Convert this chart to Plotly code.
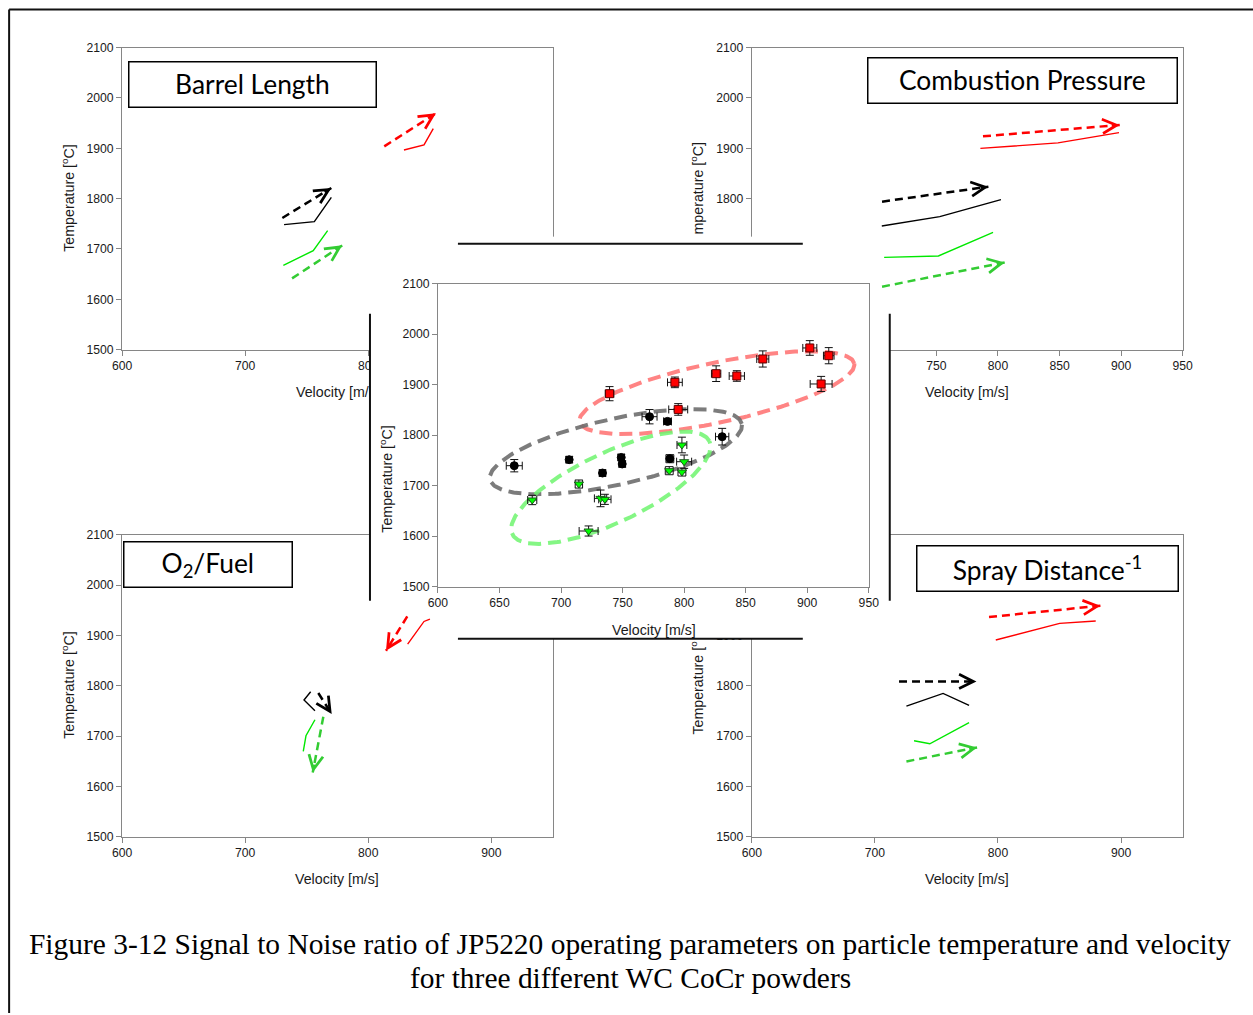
import numpy as np
import plotly.graph_objects as go

# Target picture is 1253x1015.  The capture shrinks the rendered page slightly
# (about 1.5 %) and the page body keeps an 8px margin, so page positions are
# corrected for both when mapping reference pixels to paper coordinates.
PAGE_W, PAGE_H, OFF = 1253, 1015, 8
SX, SY = 0.9845, 0.986
DX, DY = -2.0, 1.5   # residual shift of the capture
W = round(PAGE_W / SX - 2 * OFF)
H = round(PAGE_H / SY - 2 * OFF)
FS = 1 / SX  # font / size compensation

# ---------------------------------------------------------------- data
# Barrel Length panel (top left)
BAR_RED_V = [829.0, 845.3, 852.8]
BAR_RED_T = [1896.7, 1906.7, 1939.1]
BAR_RED_AV = [813.0, 855.0]
BAR_RED_AT = [1903.9, 1969.5]
BAR_BLK_V = [731.6, 756.2, 770.0]
BAR_BLK_T = [1748.3, 1754.3, 1802.6]
BAR_BLK_AV = [730.2, 770.0]
BAR_BLK_AT = [1761.6, 1821.2]
BAR_GRN_V = [731.0, 755.3, 767.0]
BAR_GRN_T = [1667.5, 1696.7, 1736.4]
BAR_GRN_AV = [738.1, 778.9]
BAR_GRN_AT = [1641.6, 1707.2]

# Combustion Pressure panel (top right)
CP_RED_V = [785.7, 848.7, 898.3]
CP_RED_T = [1899.9, 1910.7, 1931.1]
CP_RED_AV = [787.8, 898.9]
CP_RED_AT = [1923.8, 1946.4]
CP_BLK_V = [705.6, 752.7, 802.4]
CP_BLK_T = [1745.7, 1764.2, 1798.0]
CP_BLK_AV = [705.8, 792.2]
CP_BLK_AT = [1794.0, 1823.8]
CP_GRN_V = [707.5, 751.6, 796.0]
CP_GRN_T = [1683.3, 1686.1, 1733.0]
CP_GRN_AV = [705.8, 805.5]
CP_GRN_AT = [1625.1, 1673.4]

# O2/Fuel panel (bottom left)
OF_RED_V = [850.1, 845.3, 832.0]
OF_RED_T = [1932.5, 1927.7, 1882.8]
OF_RED_AV = [831.7, 814.4]
OF_RED_AT = [1937.7, 1869.5]
OF_BLK_V = [753.2, 747.8, 756.7]
OF_BLK_T = [1788.1, 1771.6, 1750.3]
OF_BLK_AV = [759.4, 770.3]
OF_BLK_AT = [1785.5, 1743.7]
OF_GRN_V = [756.7, 749.4, 747.2]
OF_GRN_T = [1732.4, 1700.6, 1669.4]
OF_GRN_AV = [763.5, 754.9]
OF_GRN_AT = [1738.4, 1627.7]

# Spray Distance^-1 panel (bottom right)
SD_RED_V = [798.2, 850.1, 879.4]
SD_RED_T = [1890.8, 1923.8, 1928.5]
SD_RED_AV = [792.7, 883.2]
SD_RED_AT = [1936.5, 1958.9]
SD_BLK_V = [725.6, 755.4, 776.5]
SD_BLK_T = [1759.6, 1784.7, 1760.8]
SD_BLK_AV = [719.6, 782.5]
SD_BLK_AT = [1808.5, 1808.5]
SD_GRN_V = [731.8, 744.6, 776.5]
SD_GRN_T = [1690.7, 1684.7, 1726.5]
SD_GRN_AV = [725.6, 783.0]
SD_GRN_AT = [1649.6, 1677.4]

# Centre panel: measured particle states with error bars
RED_V = [739.4, 792.5, 795.2, 826.0, 842.8, 863.9, 902.1, 917.5, 911.3]
RED_T = [1882.2, 1904.6, 1851.0, 1921.8, 1917.2, 1950.9, 1972.7, 1957.4, 1901.4]
RED_EV = [3.5, 6.0, 7.7, 3.8, 6.2, 4.9, 5.7, 4.3, 8.9]
RED_ET = [14.0, 10.5, 11.5, 15.5, 10.5, 16.0, 14.5, 16.0, 15.0]

BLACK_V = [662.0, 706.6, 748.9, 749.7, 733.7, 771.9, 786.5, 788.4, 830.9]
BLACK_T = [1739.6, 1751.5, 1756.0, 1743.0, 1725.1, 1836.6, 1827.3, 1753.5, 1797.0]
BLACK_EV = [6.5, 2.4, 2.5, 2.5, 2.4, 6.1, 3.2, 3.2, 5.4]
BLACK_ET = [12.2, 6.0, 6.0, 6.0, 6.0, 14.2, 6.0, 8.0, 16.5]

GREEN_V = [676.6, 714.5, 722.4, 732.1, 735.6, 787.9, 798.2, 800.0, 798.2]
GREEN_T = [1671.7, 1703.3, 1610.3, 1674.9, 1673.0, 1729.7, 1780.6, 1747.5, 1727.1]
GREEN_EV = [3.7, 3.0, 7.7, 5.0, 5.0, 3.2, 4.0, 6.1, 3.2]
GREEN_ET = [9.2, 8.0, 10.0, 16.5, 10.0, 8.0, 15.5, 13.2, 8.0]

PANEL_TITLES = ["Barrel Length", "Combustion Pressure", "O<sub>2</sub>/Fuel",
                "Spray Distance<sup>-1</sup>"]
CAPTION_LINES = ["Figure 3-12 Signal to Noise ratio of JP5220 operating parameters on "
                 "particle temperature and velocity",
                 "for three different WC CoCr powders"]

# ---------------------------------------------------------------- styling
RED, BLACK, GREEN, GREEN_D = "#ff0000", "#000000", "#00e800", "#33cc33"
AXCOL = "#868686"
SANS = "Liberation Sans, Arial, sans-serif"
TICKFONT = dict(family=SANS, size=12 * FS, color="#1a1a1a")
TITLEFONT = dict(family=SANS, size=14 * FS, color="#1a1a1a")
V_RANGE = [600, 950]
T_RANGE = [1500, 2100]


def fx(p):
    """reference pixel x -> paper fraction"""
    return ((p + DX) / SX - OFF) / W


def fy(p):
    """reference pixel y -> paper fraction"""
    return 1 - ((p + DY) / SY - OFF) / H


def axis_common(**kw):
    d = dict(showline=True, mirror=True, linecolor=AXCOL, linewidth=1,
             ticks="outside", ticklen=5, tickcolor=AXCOL, showgrid=False,
             zeroline=False, tickfont=TICKFONT, fixedrange=True)
    d.update(kw)
    return d


fig = go.Figure()
layout_axes = {}
annotations = []
shapes = []

corner_specs = [
    ("2", (122, 553, 47, 349), 100,
     [(BAR_RED_V, BAR_RED_T, BAR_RED_AV, BAR_RED_AT, RED, RED),
      (BAR_BLK_V, BAR_BLK_T, BAR_BLK_AV, BAR_BLK_AT, BLACK, BLACK),
      (BAR_GRN_V, BAR_GRN_T, BAR_GRN_AV, BAR_GRN_AT, GREEN, GREEN_D)]),
    ("3", (752, 1183, 47, 349), 50,
     [(CP_RED_V, CP_RED_T, CP_RED_AV, CP_RED_AT, RED, RED),
      (CP_BLK_V, CP_BLK_T, CP_BLK_AV, CP_BLK_AT, BLACK, BLACK),
      (CP_GRN_V, CP_GRN_T, CP_GRN_AV, CP_GRN_AT, GREEN, GREEN_D)]),
    ("4", (122, 553, 534, 836), 100,
     [(OF_RED_V, OF_RED_T, OF_RED_AV, OF_RED_AT, RED, RED),
      (OF_BLK_V, OF_BLK_T, OF_BLK_AV, OF_BLK_AT, BLACK, BLACK),
      (OF_GRN_V, OF_GRN_T, OF_GRN_AV, OF_GRN_AT, GREEN, GREEN_D)]),
    ("5", (752, 1183, 534, 836), 100,
     [(SD_RED_V, SD_RED_T, SD_RED_AV, SD_RED_AT, RED, RED),
      (SD_BLK_V, SD_BLK_T, SD_BLK_AV, SD_BLK_AT, BLACK, BLACK),
      (SD_GRN_V, SD_GRN_T, SD_GRN_AV, SD_GRN_AT, GREEN, GREEN_D)]),
]

for n, (x0, x1, y0, y1), dtx, series in corner_specs:
    xa, ya = "x" + n, "y" + n
    layout_axes["xaxis" + n] = axis_common(domain=[fx(x0), fx(x1)], anchor=ya,
                                           range=V_RANGE, tick0=600, dtick=dtx)
    layout_axes["yaxis" + n] = axis_common(domain=[fy(y1), fy(y0)], anchor=xa,
                                           range=T_RANGE, tick0=1500, dtick=100)
    sxp = (x1 - x0) / (V_RANGE[1] - V_RANGE[0])
    syp = (y1 - y0) / (T_RANGE[1] - T_RANGE[0])
    for sv, st, av, at, c_solid, c_dash in series:
        fig.add_trace(go.Scatter(x=sv, y=st, mode="lines", xaxis=xa, yaxis=ya,
                                 line=dict(color=c_solid, width=1.4),
                                 hoverinfo="skip", showlegend=False))
        fig.add_trace(go.Scatter(x=av, y=at, mode="lines", xaxis=xa, yaxis=ya,
                                 line=dict(color=c_dash, width=2.5, dash="8px,5px"),
                                 hoverinfo="skip", showlegend=False))
        # open arrow head at the end of the dashed trend (short tail in pixels)
        dxp = (av[1] - av[0]) * sxp
        dyp = -(at[1] - at[0]) * syp
        ln = np.hypot(dxp, dyp)
        annotations.append(dict(
            x=av[1], y=at[1], ax=-9 * dxp / ln, ay=-9 * dyp / ln, xref=xa, yref=ya,
            text="", width=1, height=1, borderpad=0, font=dict(size=1),
            showarrow=True, arrowhead=5, arrowsize=1.4, arrowwidth=2,
            arrowcolor=c_dash))

# white cross-shaped cover behind the centre chart (two overlapping subplots)
for n, (x0, x1, y0, y1) in [("6", (370, 890, 313, 600)), ("7", (458, 803, 236, 638))]:
    xa, ya = "x" + n, "y" + n
    layout_axes["xaxis" + n] = dict(domain=[fx(x0), fx(x1)], anchor=ya, visible=False,
                                    range=[0, 1], fixedrange=True)
    layout_axes["yaxis" + n] = dict(domain=[fy(y1), fy(y0)], anchor=xa, visible=False,
                                    range=[0, 1], fixedrange=True)
    fig.add_trace(go.Scatter(x=[None], y=[None], xaxis=xa, yaxis=ya, mode="markers",
                             hoverinfo="skip", showlegend=False))

# centre chart
CX0, CX1, CY0, CY1 = 438, 869, 283, 586
layout_axes["xaxis8"] = axis_common(domain=[fx(CX0), fx(CX1)], anchor="y8",
                                    range=V_RANGE, tick0=600, dtick=50)
layout_axes["yaxis8"] = axis_common(domain=[fy(CY1), fy(CY0)], anchor="x8",
                                    range=T_RANGE, tick0=1500, dtick=100)

px_per_v = (CX1 - CX0) / (V_RANGE[1] - V_RANGE[0])
px_per_t = (CY1 - CY0) / (T_RANGE[1] - T_RANGE[0])
# grouping ellipses: centre (data), semi axes (px), tilt (deg), colour
ELLIPSES = [
    (826.6, 1884.2, 140.5, 30.0, 12.0, "rgba(255,110,110,0.85)"),
    (744.6, 1767.3, 129.0, 33.0, 12.5, "rgba(110,110,110,0.9)"),
    (740.5, 1696.0, 109.0, 35.0, 25.2, "rgba(110,245,110,0.85)"),
]
tt = np.linspace(0, 2 * np.pi, 240)
for cv, ct, a, b, ang, col in ELLIPSES:
    th = np.deg2rad(ang)
    dx = a * np.cos(tt) * np.cos(th) - b * np.sin(tt) * np.sin(th)
    dy = a * np.cos(tt) * np.sin(th) + b * np.sin(tt) * np.cos(th)
    fig.add_trace(go.Scatter(x=cv + dx / px_per_v, y=ct + dy / px_per_t, mode="lines",
                             xaxis="x8", yaxis="y8",
                             line=dict(color=col, width=4, dash="13px,7px"),
                             hoverinfo="skip", showlegend=False))

for vv, tv, ev, et, sym, size, fill, edge in [
    (BLACK_V, BLACK_T, BLACK_EV, BLACK_ET, "circle", 8, "#000000", "#000000"),
    (GREEN_V, GREEN_T, GREEN_EV, GREEN_ET, "triangle-down", 8, "#00ff00", "#1a5a1a"),
    (RED_V, RED_T, RED_EV, RED_ET, "square", 8, "#ff0000", "#5a0000"),
]:
    fig.add_trace(go.Scatter(
        x=vv, y=tv, mode="markers", xaxis="x8", yaxis="y8",
        marker=dict(symbol=sym, size=size, color=fill, line=dict(color=edge, width=1)),
        error_x=dict(type="data", array=ev, color="#111", thickness=1, width=4),
        error_y=dict(type="data", array=et, color="#111", thickness=1, width=4),
        hoverinfo="skip", showlegend=False))


# axis titles (partly hidden by the centre chart as in the original)
def title(text, x, y, angle=0, xanchor="center", yanchor="middle"):
    annotations.append(dict(text=text, x=fx(x), y=fy(y), xref="paper", yref="paper",
                            showarrow=False, textangle=angle, font=TITLEFONT,
                            xanchor=xanchor, yanchor=yanchor))


DEG = "[<sup>o</sup>C]"
title("Velocity [m/", 294, 391, xanchor="left")
title("Velocity [m/s]", 967.5, 391)
title("Velocity [m/s]", 337.5, 878)
title("Velocity [m/s]", 967.5, 878)
title("Velocity [m/s]", 654, 629)
title("Temperature " + DEG, 68, 198, angle=-90)
title("Temperature " + DEG, 68, 685, angle=-90)
title("mperature " + DEG, 697, 236, angle=-90, yanchor="bottom")
title("Temperature [<sup>o</sup>", 697, 638, angle=-90, yanchor="top")
title("Temperature " + DEG, 386, 478, angle=-90)

# boxed panel titles
for text, (bx0, bx1, by0, by1) in zip(PANEL_TITLES, [(130, 375, 61, 107),
                                                     (870, 1176, 57, 103),
                                                     (124, 291, 541, 587),
                                                     (918, 1177, 545, 591)]):
    annotations.append(dict(text=text, x=fx((bx0 + bx1) / 2), y=fy((by0 + by1) / 2),
                            xref="paper", yref="paper", showarrow=False,
                            xanchor="center", yanchor="middle",
                            width=(bx1 - bx0) / SX - 3, height=(by1 - by0) / SY - 3,
                            borderpad=0, bordercolor="#000", borderwidth=1.5,
                            bgcolor="#fff",
                            font=dict(family="Lato, Carlito, Calibri, sans-serif",
                                      size=26 * FS, color="#000")))

for line, yy in zip(CAPTION_LINES, [943, 977]):
    annotations.append(dict(text=line, x=fx(630.5), y=fy(yy), xref="paper", yref="paper",
                            showarrow=False, xanchor="center", yanchor="middle",
                            font=dict(family="Liberation Serif, Times New Roman, serif",
                                      size=29 * FS, color="#000")))


# partial border lines of the centre chart area and the outer frame
def seg(xa, ya, xb, yb, w=2, col="#111"):
    shapes.append(dict(type="line", xref="paper", yref="paper", x0=fx(xa), y0=fy(ya),
                       x1=fx(xb), y1=fy(yb), line=dict(color=col, width=w), layer="above"))


seg(458, 243, 803, 243)
seg(458, 638, 803, 638)
seg(370, 313, 370, 600)
seg(890, 313, 890, 600)
seg(9, 9, PAGE_W + 5, 9)
seg(9, 9, 9, PAGE_H + 5)

fig.update_layout(
    width=W, height=H, autosize=False, margin=dict(l=0, r=0, t=0, b=0),
    paper_bgcolor="#ffffff", plot_bgcolor="#ffffff", showlegend=False,
    hovermode=False, annotations=annotations, shapes=shapes, **layout_axes)

fig.write_html("out.html")
